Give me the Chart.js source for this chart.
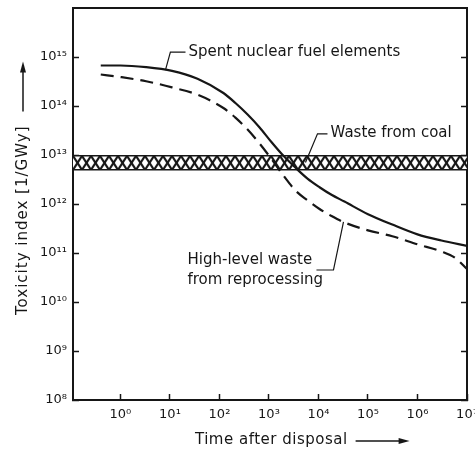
<!DOCTYPE html>
<html>
<head>
<meta charset="utf-8">
<script src="https://cdn.jsdelivr.net/npm/chart.js@4.4.0/dist/chart.umd.min.js"></script>
<style>
  body { margin: 0; background: #fff; }
</style>
</head>
<body>
<canvas id="toxChart" width="475" height="454"></canvas>
<script>
// time after disposal (years) and toxicity index (1/GWy)
const TIME_SPENT = [0.4, 1, 3.3, 11, 36, 120, 210, 370, 640, 1120, 1960, 3430, 6000, 10500, 18300, 33500, 1e5, 3.1e5, 1e6, 3.05e6, 1e7];
const TOX_SPENT = [6.7e14, 6.7e14, 6.2e14, 5.2e14, 3.6e14, 1.84e14, 1.15e14, 6.7e13, 3.7e13, 1.84e13, 9.6e12, 5.5e12, 3.3e12, 2.2e12, 1.54e12, 1.12e12, 6.2e11, 3.8e11, 2.4e11, 1.8e11, 1.4e11];

const TIME_HLW = [0.4, 1, 3.3, 11, 36, 120, 210, 370, 640, 1120, 1960, 3430, 6000, 10500, 18300, 33500, 1e5, 3.1e5, 1e6, 3.05e6, 5.9e6, 1e7];
const TOX_HLW = [4.4e14, 3.9e14, 3.2e14, 2.4e14, 1.7e14, 9.1e13, 5.8e13, 3.3e13, 1.73e13, 8.3e12, 3.8e12, 1.88e12, 1.19e12, 7.9e11, 5.7e11, 4.2e11, 2.9e11, 2.2e11, 1.5e11, 1.07e11, 7.8e10, 4.7e10];

const COAL_TIME = [0.11, 1e7];
const COAL_LOW = [5.0e12, 5.0e12];
const COAL_HIGH = [9.6e12, 9.6e12];

const X_TICK_EXP = [0, 1, 2, 3, 4, 5, 6, 7];
const Y_TICK_EXP = [8, 9, 10, 11, 12, 13, 14, 15];

const INK = '#161616';
const FONT = '"DejaVu Sans", "Liberation Sans", sans-serif';

const SUP = { '0': '⁰', '1': '¹', '2': '²', '3': '³', '4': '⁴', '5': '⁵', '6': '⁶', '7': '⁷', '8': '⁸', '9': '⁹', '-': '⁻' };
const pow10 = e => '10' + String(e).split('').map(c => SUP[c]).join('');

const toPoints = (xs, ys) => xs.map((x, i) => ({ x: x, y: ys[i] }));

// labels with leader lines, anchored in data coordinates
const NOTES = [
  { lines: ['Spent nuclear fuel elements'], at: [23.6, 1.26e15], leader: [[8.1, 5.4e14], [10.2, 1.26e15], [20.6, 1.26e15]] },
  { lines: ['Waste from coal'], at: [17500, 2.75e13], leader: [[5460, 7e12], [9550, 2.7e13], [15200, 2.7e13]] },
  { lines: ['High-level waste', 'from reprocessing'], at: [22.6, 7.2e10], leader: [[32000, 4.3e11], [20100, 4.5e10], [9100, 4.5e10]] }
];

// cross-hatch fill for the coal band
const hatchTile = document.createElement('canvas');
hatchTile.width = 9;
hatchTile.height = 14;
const hctx = hatchTile.getContext('2d');
hctx.fillStyle = '#fff';
hctx.fillRect(0, 0, 9, 14);
hctx.strokeStyle = INK;
hctx.lineWidth = 2.2;
hctx.beginPath();
hctx.moveTo(-1, -1.5); hctx.lineTo(10, 15.5);
hctx.moveTo(10, -1.5); hctx.lineTo(-1, 15.5);
hctx.stroke();
const hatch = document.getElementById('toxChart').getContext('2d').createPattern(hatchTile, 'repeat');

const alignHatch = {
  id: 'alignHatch',
  beforeDatasetsDraw(chart) {
    const y = chart.scales.y.getPixelForValue(COAL_HIGH[0]);
    hatch.setTransform(new DOMMatrix().translate(chart.chartArea.left, y));
  }
};

const arrow = (ctx, x1, y1, x2, y2) => {
  const a = Math.atan2(y2 - y1, x2 - x1);
  ctx.beginPath();
  ctx.moveTo(x1, y1);
  ctx.lineTo(x2 - 8 * Math.cos(a), y2 - 8 * Math.sin(a));
  ctx.lineWidth = 1.5;
  ctx.stroke();
  ctx.beginPath();
  ctx.moveTo(x2, y2);
  ctx.lineTo(x2 - 11 * Math.cos(a) + 3 * Math.sin(a), y2 - 11 * Math.sin(a) - 3 * Math.cos(a));
  ctx.lineTo(x2 - 11 * Math.cos(a) - 3 * Math.sin(a), y2 - 11 * Math.sin(a) + 3 * Math.cos(a));
  ctx.closePath();
  ctx.fill();
};

const decorations = {
  id: 'decorations',
  afterDraw(chart) {
    const { ctx, chartArea: area, scales } = chart;
    const px = v => scales.x.getPixelForValue(v);
    const py = v => scales.y.getPixelForValue(v);
    ctx.save();
    ctx.fillStyle = INK;
    ctx.strokeStyle = INK;

    // leaders and labels
    ctx.font = '15px ' + FONT;
    ctx.textBaseline = 'middle';
    ctx.textAlign = 'left';
    NOTES.forEach(n => {
      ctx.beginPath();
      n.leader.forEach((p, i) => {
        if (i === 0) ctx.moveTo(px(p[0]), py(p[1]));
        else ctx.lineTo(px(p[0]), py(p[1]));
      });
      ctx.lineWidth = 1.2;
      ctx.stroke();
      n.lines.forEach((t, i) => ctx.fillText(t, px(n.at[0]), py(n.at[1]) + i * 20));
    });

    // x axis title with arrow
    ctx.letterSpacing = '0.5px';
    const xt = 'Time after disposal';
    const xs = area.left + 122;
    const xy = area.bottom + 40;
    ctx.fillText(xt, xs, xy);
    const xe = xs + ctx.measureText(xt).width + 8;
    arrow(ctx, xe, xy + 1, xe + 54, xy + 1);

    // y axis title with arrow
    ctx.letterSpacing = '1px';
    const yt = 'Toxicity index [1/GWy]';
    ctx.save();
    ctx.translate(23, area.bottom - 85);
    ctx.rotate(-Math.PI / 2);
    ctx.fillText(yt, 0, 0);
    const ye = ctx.measureText(yt).width + 14;
    arrow(ctx, ye, 0, ye + 50, 0);
    ctx.restore();

    ctx.restore();
  }
};

const tickFont = { family: FONT, size: 13 };
const logTicks = exps => scale => { scale.ticks = exps.map(e => ({ value: Math.pow(10, e) })); };

new Chart(document.getElementById('toxChart'), {
  type: 'line',
  data: {
    datasets: [{
      label: 'Spent nuclear fuel elements',
      data: toPoints(TIME_SPENT, TOX_SPENT),
      borderColor: INK,
      borderWidth: 2.2,
      pointRadius: 0,
      cubicInterpolationMode: 'monotone',
      fill: false
    }, {
      label: 'High-level waste from reprocessing',
      data: toPoints(TIME_HLW, TOX_HLW),
      borderColor: INK,
      borderWidth: 2.2,
      borderDash: [13, 7],
      pointRadius: 0,
      cubicInterpolationMode: 'monotone',
      fill: false
    }, {
      label: 'Waste from coal (low)',
      data: toPoints(COAL_TIME, COAL_LOW),
      borderColor: INK,
      borderWidth: 1.5,
      pointRadius: 0,
      fill: false
    }, {
      label: 'Waste from coal',
      data: toPoints(COAL_TIME, COAL_HIGH),
      borderColor: INK,
      borderWidth: 1.5,
      pointRadius: 0,
      backgroundColor: hatch,
      fill: '-1'
    }]
  },
  options: {
    responsive: false,
    animation: false,
    devicePixelRatio: 1,
    layout: { padding: { top: 8, right: 8, bottom: 0, left: 0 } },
    plugins: {
      legend: { display: false },
      tooltip: { enabled: false }
    },
    scales: {
      x: {
        type: 'logarithmic',
        position: 'bottom',
        min: 0.11,
        max: 1e7,
        afterBuildTicks: logTicks(X_TICK_EXP),
        ticks: {
          callback: v => pow10(Math.round(Math.log10(v))),
          font: tickFont,
          color: INK,
          padding: 13,
          maxRotation: 0,
          autoSkip: false
        },
        grid: { drawOnChartArea: false, tickLength: -6, tickColor: INK, tickWidth: 1.5 },
        border: { color: INK, width: 2 },
        afterFit: s => { s.height = 54; s.paddingLeft = 0; s.paddingRight = 0; }
      },
      x2: {
        type: 'logarithmic',
        position: 'top',
        min: 0.11,
        max: 1e7,
        ticks: { display: false },
        grid: { drawOnChartArea: false, drawTicks: false },
        border: { color: INK, width: 2 },
        afterFit: s => { s.height = 0; s.paddingLeft = 0; s.paddingRight = 0; }
      },
      y: {
        type: 'logarithmic',
        position: 'left',
        min: 1e8,
        max: 1e16,
        afterBuildTicks: logTicks(Y_TICK_EXP),
        ticks: {
          callback: v => pow10(Math.round(Math.log10(v))),
          font: tickFont,
          color: INK,
          padding: 12,
          autoSkip: false
        },
        grid: { drawOnChartArea: false, tickLength: -6, tickColor: INK, tickWidth: 1.5 },
        border: { color: INK, width: 2 },
        afterFit: s => { s.width = 73; s.paddingTop = 0; s.paddingBottom = 0; }
      },
      y2: {
        type: 'logarithmic',
        position: 'right',
        min: 1e8,
        max: 1e16,
        afterBuildTicks: logTicks(Y_TICK_EXP),
        ticks: { display: false },
        grid: { drawOnChartArea: false, tickLength: -6, tickColor: INK, tickWidth: 1.5 },
        border: { color: INK, width: 2 },
        afterFit: s => { s.width = 0; s.paddingTop = 0; s.paddingBottom = 0; }
      }
    }
  },
  plugins: [alignHatch, decorations]
});
</script>
</body>
</html>
